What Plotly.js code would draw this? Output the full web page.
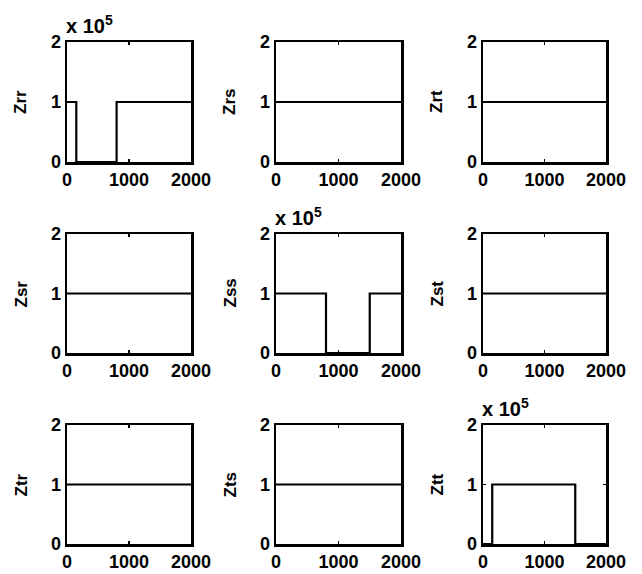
<!DOCTYPE html>
<html>
<head>
<meta charset="utf-8">
<script src="https://cdn.plot.ly/plotly-3.0.1.min.js"></script>
<style>
  html, body { margin: 0; padding: 0; background: #fff; }
  #chart { width: 642px; height: 574px; }
</style>
</head>
<body>
<div id="chart"></div>
<script>
// Impedance matrix components vs. sample index
const panelNames = ['Zrr', 'Zrs', 'Zrt', 'Zsr', 'Zss', 'Zst', 'Ztr', 'Zts', 'Ztt'];

// Step profiles (x = break points, y = value held until next break)
const zrrX = [0, 150, 800, 2000];
const zrrY = [100000, 0, 100000, 100000];
const zssX = [0, 800, 1500, 2000];
const zssY = [100000, 0, 100000, 100000];
const zttX = [0, 150, 1500, 2000];
const zttY = [0, 100000, 0, 0];
const flatX = [0, 2000];
const flatY = [1, 1];

const xTicks = [0, 1000, 2000];
const xTickText = ['0', '1000', '2000'];
const yTicksScaled = [0, 100000, 200000];
const yTicksPlain = [0, 1, 2];
const yTickText = ['0', '1', '2'];

const seriesX = [zrrX, flatX, flatX, flatX, zssX, flatX, flatX, flatX, zttX];
const seriesY = [zrrY, flatY, flatY, flatY, zssY, flatY, flatY, flatY, zttY];
const scaled = [true, false, false, false, true, false, false, false, true];

const W = 642, H = 574;
const colPx = [[67, 191], [276, 401], [483, 606]];
const rowPx = [[42, 162], [234, 353], [425, 544]];

const FONT = 'Liberation Sans Narrow, Liberation Sans, Arial, sans-serif';

const traces = [];
const layout = {
  width: W, height: H,
  margin: {l: 0, r: 0, t: 0, b: 0},
  paper_bgcolor: '#fff', plot_bgcolor: '#fff',
  showlegend: false,
  font: {family: FONT, color: '#000', size: 18, weight: 'bold'},
  annotations: []
};

panelNames.forEach((name, i) => {
  const r = Math.floor(i / 3), c = i % 3;
  const k = i === 0 ? '' : String(i + 1);
  traces.push({
    type: 'scatter', mode: 'lines',
    x: seriesX[i], y: seriesY[i],
    line: {shape: 'hv', color: '#000', width: 2.2},
    xaxis: 'x' + k, yaxis: 'y' + k,
    hoverinfo: 'skip', cliponaxis: false
  });
  const xd = [colPx[c][0] / W, colPx[c][1] / W];
  const yd = [1 - rowPx[r][1] / H, 1 - rowPx[r][0] / H];
  const common = {
    showline: true, mirror: 'ticks', linecolor: '#000', linewidth: 2.5,
    ticks: 'inside', ticklen: 3, tickwidth: 1.5, tickcolor: '#000',
    showgrid: false, zeroline: false, fixedrange: true,
    tickfont: {family: FONT, size: 18, color: '#000', weight: 'bold'}
  };
  layout['xaxis' + k] = Object.assign({}, common, {
    domain: xd, range: [0, 2000], anchor: 'y' + k,
    tickmode: 'array', tickvals: xTicks, ticktext: xTickText
  });
  layout['yaxis' + k] = Object.assign({}, common, {
    domain: yd, range: scaled[i] ? [0, 200000] : [0, 2], anchor: 'x' + k,
    tickmode: 'array', tickvals: scaled[i] ? yTicksScaled : yTicksPlain,
    ticktext: yTickText
  });
  // panel label on the left
  layout.annotations.push({
    xref: 'paper', yref: 'paper',
    x: (colPx[c][0] - 46) / W, y: 1 - (rowPx[r][0] + rowPx[r][1]) / 2 / H,
    text: name, textangle: -90, showarrow: false,
    xanchor: 'center', yanchor: 'middle',
    font: {family: FONT, size: 17, color: '#000', weight: 'bold'}
  });
  // exponent multiplier above scaled panels
  if (scaled[i]) {
    layout.annotations.push({
      xref: 'paper', yref: 'paper',
      x: (colPx[c][0] - 3) / W, y: 1 - (rowPx[r][0] - 3) / H,
      text: 'x 10<sup>5</sup>', showarrow: false,
      xanchor: 'left', yanchor: 'bottom',
      font: {family: FONT, size: 20, color: '#000', weight: 'bold'}
    });
  }
});

Plotly.newPlot('chart', traces, layout, {staticPlot: true, displayModeBar: false});
</script>
</body>
</html>
